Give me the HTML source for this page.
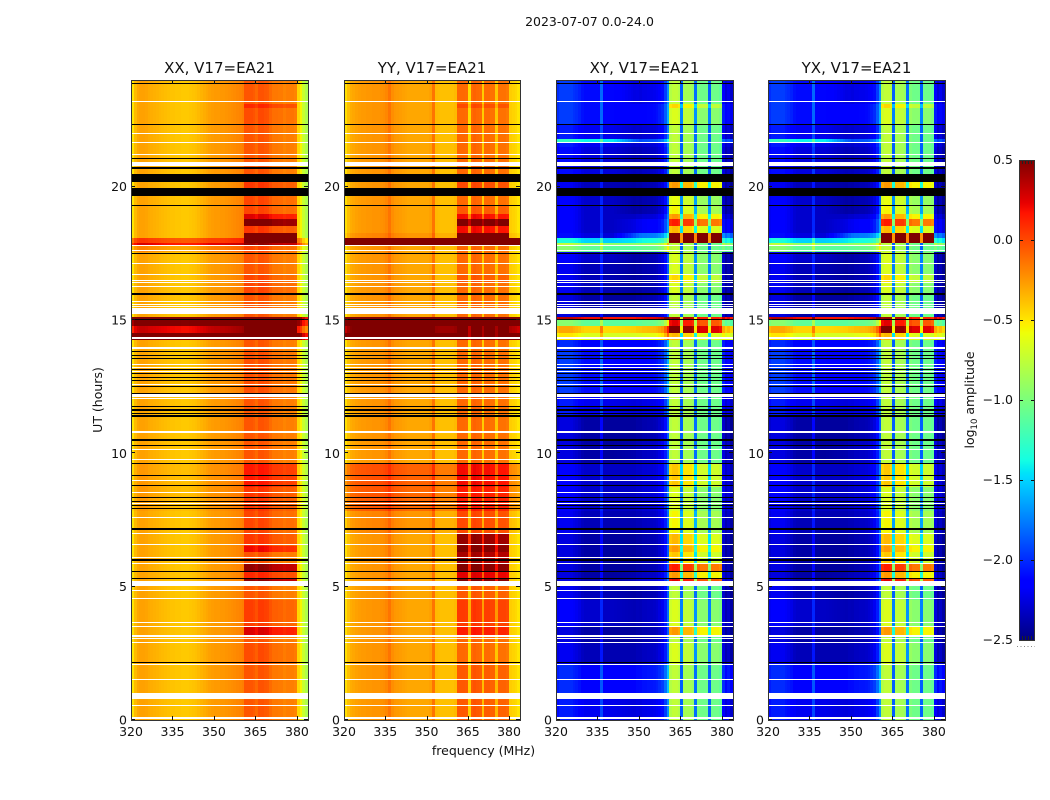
<!DOCTYPE html>
<html lang="en">
<head>
<meta charset="utf-8">
<title>2023-07-07 0.0-24.0</title>
<style>
html,body{margin:0;padding:0;background:#fff;}
svg{display:block;}
text{font-family:"DejaVu Sans","Liberation Sans",sans-serif;fill:#111;}
</style>
</head>
<body>
<svg id="chart" xmlns="http://www.w3.org/2000/svg" width="1050" height="800" viewBox="0 0 1050 800">
  <rect width="1050" height="800" fill="#fff"/>
  <text x="589.5" y="26" font-size="12.5" text-anchor="middle">2023-07-07 0.0-24.0</text>
  <text x="483.5" y="755" font-size="12.5" text-anchor="middle">frequency (MHz)</text>
  <text transform="translate(102,400) rotate(-90)" font-size="12.5" text-anchor="middle">UT (hours)</text>
  <text transform="translate(974,400) rotate(-90)" font-size="12.5" text-anchor="middle">log<tspan font-size="8.5" dy="3">10</tspan><tspan dy="-3"> amplitude</tspan></text>
</svg>
<script>
// ---------- data ----------
const channelMHz = [320,321,322,323,324,325,326,327,328,329,330,331,332,333,334,335,336,337,338,339,340,341,342,343,344,345,346,347,348,349,350,351,352,353,354,355,356,357,358,359,360,361,362,363,364,365,366,367,368,369,370,371,372,373,374,375,376,377,378,379,380,381,382,383];
const xTicks = [320,335,350,365,380];
const yTicks = [0,5,10,15,20];
const colorTicks = [0.5,0.0,-0.5,-1.0,-1.5,-2.0,-2.5];
const colorTickLabels = ['0.5','0.0','\u22120.5','\u22121.0','\u22121.5','\u22122.0','\u22122.5'];

// quiet log10 amplitude spectrum per polarisation (one value per channel)
const xxSpectrum = [-.50,-.36,-.30,-.28,-.28,-.29,-.31,-.32,-.33,-.34,-.35,-.36,-.37,-.38,-.39,-.39,-.40,-.40,-.41,-.41,-.41,-.40,-.39,-.38,-.36,-.34,-.32,-.30,-.28,-.27,-.26,-.26,-.25,-.25,-.24,-.23,-.22,-.21,-.20,-.19,-.17,-.04,-.04,-.04,-.06,-.1,-.03,-.03,-.05,-.06,-.11,-.15,-.15,-.16,-.16,-.19,-.17,-.17,-.17,-.19,-.45,-.55,-.72,-.82];
const yySpectrum = [-.48,-.38,-.32,-.30,-.28,-.27,-.26,-.26,-.25,-.25,-.24,-.24,-.24,-.23,-.22,-.20,-.14,-.22,-.25,-.26,-.27,-.28,-.29,-.30,-.30,-.30,-.30,-.30,-.30,-.30,-.30,-.28,-.14,-.36,-.37,-.38,-.38,-.38,-.38,-.38,-.36,-.1,-.1,-.1,-.11,-.47,-.11,-.08,-.1,-.11,-.42,-.11,-.11,-.13,-.13,-.4,-.13,-.13,-.13,-.15,-.42,-.44,-.46,-.5];
const xySpectrum = [-2.3,-2.25,-2.25,-2.25,-2.25,-2.25,-2.28,-2.3,-2.33,-2.38,-2.4,-2.4,-2.4,-2.4,-2.4,-2.4,-2.12,-2.42,-2.42,-2.42,-2.42,-2.42,-2.42,-2.42,-2.42,-2.42,-2.42,-2.42,-2.42,-2.4,-2.4,-2.38,-2.38,-2.37,-2.37,-2.36,-2.34,-2.3,-2.25,-2.1,-1.85,-.8,-.75,-.75,-.8,-1.85,-.85,-.85,-.85,-.9,-1.8,-1.0,-1.05,-1.05,-1.05,-1.85,-1.05,-1.05,-1.05,-1.1,-2.3,-2.42,-2.36,-2.45];
const yxSpectrum = [-2.3,-2.25,-2.25,-2.25,-2.25,-2.25,-2.28,-2.3,-2.33,-2.38,-2.4,-2.4,-2.4,-2.4,-2.4,-2.4,-2.12,-2.42,-2.42,-2.42,-2.42,-2.42,-2.42,-2.42,-2.42,-2.42,-2.42,-2.42,-2.42,-2.4,-2.4,-2.38,-2.38,-2.37,-2.37,-2.36,-2.34,-2.3,-2.25,-2.1,-1.85,-.8,-.75,-.75,-.8,-1.85,-.85,-.85,-.85,-.9,-1.8,-1.0,-1.05,-1.05,-1.05,-1.85,-1.05,-1.05,-1.05,-1.1,-2.3,-2.42,-2.36,-2.45];

// start hour of each time band; the last band ends at 24 h
const bandStart = [0,1,2.06,2.9,3.15,3.54,4.5,5.2,5.33,5.6,5.85,6.3,6.54,7,7.85,8.74,9.63,10.46,11.36,12.15,13.8,14.25,14.51,14.775,15,15.11,15.94,16.39,16.69,17.18,17.55,17.78,17.89,18.07,18.26,18.525,18.79,18.975,19.275,19.65,20.475,21.5,21.69,21.79,22.35,22.95,23.1];

// per-band amplitude change: low band (below 345 MHz), mid band (345-360 MHz and above 380 MHz), correlator blocks (361-380 MHz)
const xxLow =   [0,0,0,0,0,0,0,0,0,0,0,0,0,0,.03,.03,0,0,0,0,0,1,.6,.9,1,0,0,0,0,0,.1,.55,.35,0,0,0,0,0,0,0,0,0,0,0,0,0,0];
const xxMid =   [0,0,0,0,0,0,0,0,0,0,0,0,0,0,.03,.03,0,0,0,0,0,1,.6,.9,1,0,0,0,0,0,.1,.5,.3,0,0,0,0,0,0,0,0,0,0,0,0,0,0];
const xxBlock = [0,0,.03,0,.3,.08,0,.5,.15,.5,0,.25,.1,.05,.1,.2,0,0,0,.02,0,.8,.8,.9,1,0,.05,.05,0,0,.05,.5,1,.9,.1,.6,.3,.05,.05,.1,0,0,0,0,.03,.15,0];
const yyLow =   [0,0,0,0,0,0,0,0,0,0,0,0,0,.05,.2,.22,0,0,0,0,0,1,.8,1,1,0,0,0,0,0,0,1,1,.05,0,0,0,0,0,0,0,0,0,0,0,0,0];
const yyMid =   [0,0,0,0,0,0,0,0,0,0,0,0,0,.05,.2,.22,0,0,0,0,0,1,.8,1,1,0,0,0,0,0,0,1,1,.05,0,0,0,0,0,0,0,0,0,0,0,0,0];
const yyBlock = [.05,.05,0,0,.25,.15,.05,.6,.35,.6,.5,.6,.55,.1,.25,.3,0,0,0,0,0,.8,.8,1,1,0,0,.05,0,0,0,1,1,1,.3,.8,.3,.05,0,.1,0,0,0,0,0,.1,0];
const xyLow =   [.2,.25,.05,0,0,.1,.05,0,0,0,0,0,0,.05,.1,.1,0,0,.2,.3,.25,1.75,1.95,1.3,2.6,0,.05,.05,.05,.1,1.3,1.5,.9,.15,.1,.1,.1,.1,.1,.05,.15,.2,1,.2,.3,.3,.3];
const xyMid =   [.15,.3,.05,0,0,.05,0,.1,.05,0,0,0,0,.05,.1,.1,.05,0,.15,.25,.25,1.75,2,1.3,2.6,0,0,0,0,0,1.3,1.5,1,.6,.2,.2,.1,0,0,0,.05,.1,.5,.1,.25,.25,.15];
const xyBlock = [0,0,.1,0,.5,.1,0,1,.5,.9,.35,.5,.4,.2,.1,.35,0,0,0,0,0,.4,1.3,1,1.2,0,.1,.3,.1,.1,0,0,1.6,1.6,.4,.9,.5,.2,.15,.5,0,0,0,0,.1,.3,0];
const yxLow =   [.2,.25,.05,0,0,.1,.05,0,0,0,0,0,0,.05,.1,.1,0,0,.2,.3,.25,1.75,1.95,1.3,2.6,0,.05,.05,.05,.1,1.3,1.5,.9,.15,.1,.1,.1,.1,.1,.05,.15,.2,1,.2,.3,.3,.3];
const yxMid =   [.15,.3,.05,0,0,.05,0,.1,.05,0,0,0,0,.05,.1,.1,.05,0,.15,.25,.25,1.75,2,1.3,2.6,0,0,0,0,0,1.3,1.5,1,.6,.2,.2,.1,0,0,0,.05,.1,.5,.1,.25,.25,.15];
const yxBlock = [0,0,.1,0,.5,.1,0,1,.5,.9,.35,.5,.4,.2,.1,.35,0,0,0,0,0,.4,1.3,1,1.2,0,.1,.3,.1,.1,0,0,1.6,1.6,.4,.9,.5,.2,.15,.5,0,0,0,0,.1,.3,0];

// missing integrations (white), [start hour, end hour]
const missingRanges = [[.056,.11],[.525,.56],[.79,1.01],[1.5,1.54],[2.06,2.1],[2.89,2.925],[3.04,3.09],[3.11,3.17],[3.51,3.54],[3.62,3.675],[4.54,4.575],[4.84,4.875],[5.04,5.21],[5.85,5.89],[6.075,6.11],[6.56,6.6],[6.975,7.01],[7.575,7.61],[8.1,8.14],[8.51,8.55],[8.96,9],[9.75,9.79],[10.125,10.16],[10.76,10.84],[12.02,12.06],[12.11,12.225],[12.56,12.6],[13.05,13.09],[13.2,13.24],[13.31,13.35],[13.91,13.99],[14.27,14.36],[15.24,15.45],[15.49,15.525],[15.56,15.6],[15.675,15.71],[16.24,16.275],[16.39,16.425],[16.46,16.5],[16.69,16.725],[17.1,17.14],[17.61,17.64],[17.76,17.81],[20.76,20.925],[21.19,21.225],[21.64,21.675],[21.975,22.01],[23.16,23.21]];
// flagged integrations (black), [start hour, end hour]
const flaggedRanges = [[2.14,2.175],[5.29,5.325],[5.55,5.59],[5.96,6.04],[7.125,7.2],[7.91,7.95],[8.025,8.06],[8.175,8.21],[8.325,8.36],[8.775,8.81],[9.15,9.19],[9.6,9.64],[10.26,10.31],[10.46,10.54],[11.36,11.44],[11.475,11.51],[11.59,11.66],[11.74,11.775],[12.225,12.26],[12.51,12.54],[12.71,12.75],[12.825,12.86],[12.975,13.01],[13.125,13.16],[13.52,13.56],[13.65,13.69],[13.8,13.84],[15,15.04],[15.94,16.01],[17.475,17.51],[19.275,19.31],[19.65,19.95],[20.175,20.475],[20.66,20.74],[21.04,21.075],[22.31,22.35],[23.85,23.89]];

const panelTitles = ['XX, V17=EA21','YY, V17=EA21','XY, V17=EA21','YX, V17=EA21'];
const panelKeys = ['xx','yy','xy','yx'];

// ---------- scales ----------
const NS = 'http://www.w3.org/2000/svg';
const svg = document.getElementById('chart');
const axTop = 80, axBottom = 720, hourMax = 24, mhzMin = 320, mhzMax = 384;
const panelLeft = [131, 344, 556, 768];
const panelWidths = [177, 176, 177, 177];
const colorMin = -2.5, colorMax = 0.5;
const cbLeft = 1019, cbRight = 1035, cbTop = 160, cbBottom = 640;

function xScale(panel, mhz){ return panelLeft[panel] + (mhz - mhzMin) / (mhzMax - mhzMin) * panelWidths[panel]; }
function yScale(hour){ return axBottom - hour / hourMax * (axBottom - axTop); }
function cbScale(v){ return cbBottom - (v - colorMin) / (colorMax - colorMin) * (cbBottom - cbTop); }

function interp(stops, t){
  for (let i = 1; i < stops.length; i++) {
    if (t <= stops[i][0]) {
      const a = stops[i-1], b = stops[i];
      return a[1] + (b[1] - a[1]) * (t - a[0]) / (b[0] - a[0]);
    }
  }
  return stops[stops.length-1][1];
}
const jetR = [[0,0],[.35,0],[.66,1],[.89,1],[1,.5]];
const jetG = [[0,0],[.125,0],[.375,1],[.64,1],[.91,0],[1,0]];
const jetB = [[0,.5],[.11,1],[.34,1],[.65,0],[1,0]];
function colorOf(v){
  const t = Math.max(0, Math.min(1, (v - colorMin) / (colorMax - colorMin)));
  const c = s => Math.round(255 * interp(s, t));
  return 'rgb(' + c(jetR) + ',' + c(jetG) + ',' + c(jetB) + ')';
}

function make(tag, attrs, parent){
  const el = document.createElementNS(NS, tag);
  for (const k in attrs) el.setAttribute(k, attrs[k]);
  parent.appendChild(el);
  return el;
}

// ---------- panels ----------
const seriesByPanel = {
  xx: {spec: xxSpectrum, low: xxLow, mid: xxMid, block: xxBlock},
  yy: {spec: yySpectrum, low: yyLow, mid: yyMid, block: yyBlock},
  xy: {spec: xySpectrum, low: xyLow, mid: xyMid, block: xyBlock},
  yx: {spec: yxSpectrum, low: yxLow, mid: yxMid, block: yxBlock}
};

function drawFlag(group, panel, range, fill, name){
  const y0 = Math.round(yScale(range[1]));
  const y1 = Math.round(yScale(range[0]));
  const r = make('rect', {x: xScale(panel, mhzMin), y: y0, width: panelWidths[panel], height: Math.max(1, y1 - y0), fill: fill, 'shape-rendering': 'crispEdges'}, group);
  
  
}

panelKeys.forEach(function(key, p){
  const s = seriesByPanel[key];
  const panelWidth = panelWidths[p];
  const g = make('g', {}, svg);
  
  

  const cells = make('g', {}, g);
  
  
  bandStart.forEach(function(start, b){
    const end = b + 1 < bandStart.length ? bandStart[b+1] : hourMax;
    const y0 = Math.round(yScale(end));
    const y1 = Math.round(yScale(start));
    channelMHz.forEach(function(mhz, c){
      let offset = s.mid[b];
      if (mhz < 340) offset = s.low[b];
      else if (mhz < 350) offset = s.low[b] + (s.mid[b] - s.low[b]) * (mhz - 340) / 10;
      else if (mhz >= 361 && mhz < 380) offset = s.block[b];
      const x0 = Math.round(xScale(p, mhz));
      const x1 = Math.round(xScale(p, mhz + 1));
      const r = make('rect', {x: x0, y: y0, width: x1 - x0, height: y1 - y0, fill: colorOf(s.spec[c] + offset), 'shape-rendering': 'crispEdges'}, cells);
      
      
    });
  });

  const flags = make('g', {}, g);
  
  
  missingRanges.forEach(function(rg){ drawFlag(flags, p, rg, '#fff', 'missing-row'); });
  flaggedRanges.forEach(function(rg){ drawFlag(flags, p, rg, '#000', 'flagged-row'); });

  const left = panelLeft[p], right = left + panelWidth;

  xTicks.forEach(function(t){
    const x = Math.round(xScale(p, t)) + .5;
    [[axBottom, axBottom - 4], [axTop, axTop + 4]].forEach(function(e){
      const l = make('line', {x1: x, x2: x, y1: e[0], y2: e[1], stroke: '#111', 'stroke-width': 1}, g);
      
      
    });
    const tx = make('text', {x: xScale(p, t), y: 736, 'font-size': 12.5, 'text-anchor': 'middle'}, g);
    tx.textContent = t;
    
    
  });
  yTicks.forEach(function(t){
    const y = Math.round(yScale(t)) - .5;
    [[left, left + 4], [right, right - 4]].forEach(function(e){
      const l = make('line', {x1: e[0], x2: e[1], y1: y, y2: y, stroke: '#111', 'stroke-width': 1}, g);
      
      
    });
    const tx = make('text', {x: left - 4, y: yScale(t) + 4.5, 'font-size': 12.5, 'text-anchor': 'end'}, g);
    tx.textContent = t;
    
    
  });

  const frame = make('rect', {x: left + .5, y: axTop + .5, width: panelWidth, height: axBottom - axTop, fill: 'none', stroke: '#333', 'stroke-width': 1}, g);
  
  

  const title = make('text', {x: left + panelWidth / 2, y: 73, 'font-size': 15, 'text-anchor': 'middle'}, g);
  title.textContent = panelTitles[p];
  
  
});

// ---------- colorbar ----------
const cb = make('g', {}, svg);


for (let y = cbTop; y < cbBottom; y++) {
  const v = colorMax - (y + .5 - cbTop) / (cbBottom - cbTop) * (colorMax - colorMin);
  const r = make('rect', {x: cbLeft, y: y, width: cbRight - cbLeft, height: 1, fill: colorOf(v), 'shape-rendering': 'crispEdges'}, cb);
  
  
}
colorTicks.forEach(function(t, i){
  const y = Math.round(cbScale(t)) + .5;
  [[cbLeft, cbLeft + 4], [cbRight, cbRight - 4]].forEach(function(e){
    const l = make('line', {x1: e[0], x2: e[1], y1: y, y2: y, stroke: '#111', 'stroke-width': 1}, cb);
    
    
  });
  const tx = make('text', {x: 1013, y: cbScale(t) + 4, 'font-size': 12.5, 'text-anchor': 'end'}, cb);
  tx.textContent = colorTickLabels[i];
  
  
});
[1022, 1025, 1028, 1031].forEach(function(x){
  [[cbTop, cbTop + 4], [cbBottom, cbBottom - 4]].forEach(function(e){
    const l = make('line', {x1: x + .5, x2: x + .5, y1: e[0], y2: e[1], stroke: '#222', 'stroke-width': 1}, cb);
    
    
  });
});
const cbFrame = make('rect', {x: cbLeft + .5, y: cbTop + .5, width: cbRight - cbLeft - 1, height: cbBottom - cbTop, fill: 'none', stroke: '#333', 'stroke-width': 1}, cb);


const cbDots = make('line', {x1: 1017, x2: 1035, y1: 646.5, y2: 646.5, stroke: '#888', 'stroke-width': 1, 'stroke-dasharray': '1 2.5'}, cb);


</script>
</body>
</html>
